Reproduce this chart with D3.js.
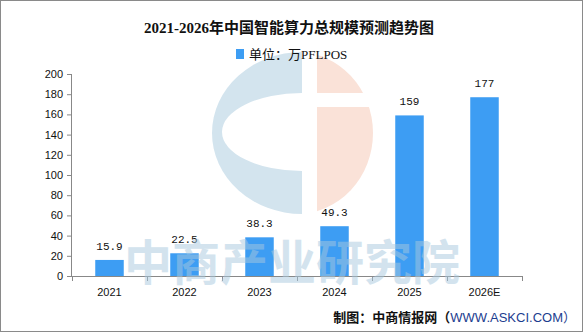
<!DOCTYPE html>
<html>
<head>
<meta charset="utf-8">
<script src="https://cdn.jsdelivr.net/npm/d3@7"></script>
<style>
  body { margin: 0; background: #fff; }
  svg { display: block; }
</style>
</head>
<body>
<div id="container"></div>
<script>
const years = ["2021", "2022", "2023", "2024", "2025", "2026E"];
const values = [15.9, 22.5, 38.3, 49.3, 159, 177];
const labels = ["15.9", "22.5", "38.3", "49.3", "159", "177"];
const yTicks = [0, 20, 40, 60, 80, 100, 120, 140, 160, 180, 200];

function draw() {
    const width = 587;
    const height = 334;
    const left = 72, right = 522, top = 74, bottom = 276;
    const barColor = "#3d9df3";

    const svg = d3.select('#container')
        .append('svg')
        .attr('width', width)
        .attr('height', height);

    svg.append("rect")
        .attr("x", 0.5).attr("y", 0.5)
        .attr("width", 582).attr("height", 331)
        .attr("fill", "#fff")
        .attr("stroke", "#8a8a8a");

    // watermark logo
    const cx = 302, cy = 133, r = 81;
    const defs = svg.append("defs");
    defs.append("clipPath").attr("id", "leftHalf")
        .append("rect").attr("x", 0).attr("y", 0).attr("width", cx).attr("height", height);
    defs.append("clipPath").attr("id", "rightHalf")
        .append("rect").attr("x", cx + 15).attr("y", 0).attr("width", width).attr("height", height);

    const logo = svg.append("g");
    logo.append("ellipse")
        .attr("cx", cx).attr("cy", cy).attr("rx", 90).attr("ry", r)
        .attr("fill", "#d3e4ee")
        .attr("clip-path", "url(#leftHalf)");
    logo.append("ellipse")
        .attr("cx", cx).attr("cy", cy - 1).attr("rx", 80).attr("ry", 39)
        .attr("fill", "#fff")
        .attr("clip-path", "url(#leftHalf)");
    logo.append("ellipse")
        .attr("cx", cx - 5).attr("cy", cy).attr("rx", 76).attr("ry", r)
        .attr("fill", "#fae2d8")
        .attr("clip-path", "url(#rightHalf)");
    logo.append("rect")
        .attr("x", cx + 10).attr("y", 93).attr("width", 90).attr("height", 14)
        .attr("fill", "#fff");

    const x = d3.scaleBand()
        .domain(years)
        .range([left, right])
        .paddingInner(0.62)
        .paddingOuter(0.31);

    const y = d3.scaleLinear()
        .domain([0, 200])
        .range([bottom, top]);

    // title
    svg.append("text")
        .attr("x", 289).attr("y", 33)
        .attr("text-anchor", "middle")
        .style("font-family", "'Liberation Serif', 'Noto Sans CJK SC', serif")
        .style("font-size", "15px")
        .style("font-weight", "bold")
        .style("fill", "#111")
        .text("2021-2026年中国智能算力总规模预测趋势图");

    // legend
    svg.append("rect")
        .attr("x", 236).attr("y", 49).attr("width", 8).attr("height", 10)
        .attr("fill", barColor);
    svg.append("text")
        .attr("x", 249).attr("y", 59)
        .style("font-family", "'Liberation Serif', 'Noto Sans CJK SC', serif")
        .style("font-size", "13px")
        .style("fill", "#111")
        .text("单位：万PFLPOS");

    // y axis
    const yAxis = svg.append("g")
        .attr("transform", `translate(${left},0)`)
        .call(d3.axisLeft(y).tickValues(yTicks).tickSize(5).tickPadding(4));
    yAxis.select(".domain").attr("stroke", "#888").attr("d", `M-0.5,${top}V${bottom}`);
    yAxis.selectAll(".tick line").attr("stroke", "#888");
    yAxis.selectAll(".tick text")
        .style("font-family", "'Liberation Sans', Arial, sans-serif")
        .style("font-size", "11px")
        .style("fill", "#111");

    // bars
    svg.append("g").selectAll("rect")
        .data(values)
        .join("rect")
        .attr("x", (d, i) => x(years[i]))
        .attr("y", d => y(d))
        .attr("width", x.bandwidth())
        .attr("height", d => y(0) - y(d))
        .attr("fill", barColor);

    // value labels
    svg.append("g").selectAll("text")
        .data(values)
        .join("text")
        .attr("x", (d, i) => x(years[i]) + x.bandwidth() / 2)
        .attr("y", d => y(d) - 10)
        .attr("text-anchor", "middle")
        .style("font-family", "'Liberation Mono', monospace")
        .style("font-size", "11px")
        .style("fill", "#111")
        .text((d, i) => labels[i]);

    // x axis
    const xAxis = svg.append("g")
        .attr("transform", `translate(0,${bottom})`);
    xAxis.append("line")
        .attr("x1", left).attr("x2", right)
        .attr("y1", 0.5).attr("y2", 0.5)
        .attr("stroke", "#888");
    const step = x.step();
    const bounds = d3.range(years.length + 1).map(i => left + i * step);
    xAxis.selectAll("line.tk")
        .data(bounds)
        .join("line")
        .attr("class", "tk")
        .attr("x1", d => Math.round(d) + 0.5).attr("x2", d => Math.round(d) + 0.5)
        .attr("y1", 0).attr("y2", 5)
        .attr("stroke", "#888");
    xAxis.selectAll("text")
        .data(years)
        .join("text")
        .attr("x", d => x(d) + x.bandwidth() / 2)
        .attr("y", 20)
        .attr("text-anchor", "middle")
        .style("font-family", "'Liberation Sans', Arial, sans-serif")
        .style("font-size", "11px")
        .style("fill", "#111")
        .text(d => d);

    // watermark text
    svg.append("text")
        .attr("x", 292).attr("y", 280)
        .attr("text-anchor", "middle")
        .style("font-family", "'Noto Sans CJK SC', sans-serif")
        .style("font-size", "48px")
        .style("font-weight", "bold")
        .style("fill", "#a8c8de")
        .style("opacity", 0.5)
        .text("中商产业研究院");

    // footer
    const foot = svg.append("text")
        .attr("x", 576).attr("y", 322)
        .attr("text-anchor", "end")
        .style("font-family", "'Noto Sans CJK SC', sans-serif")
        .style("font-size", "13px");
    foot.append("tspan").style("fill", "#111").style("font-weight", "bold").text("制图：中商情报网（");
    foot.append("tspan").style("fill", "#1c3d8f")
        .style("font-family", "'Liberation Sans', Arial, sans-serif").text("WWW.ASKCI.COM");
    foot.append("tspan").style("fill", "#1c3d8f").text("）");
}
draw();
</script>
</body>
</html>
